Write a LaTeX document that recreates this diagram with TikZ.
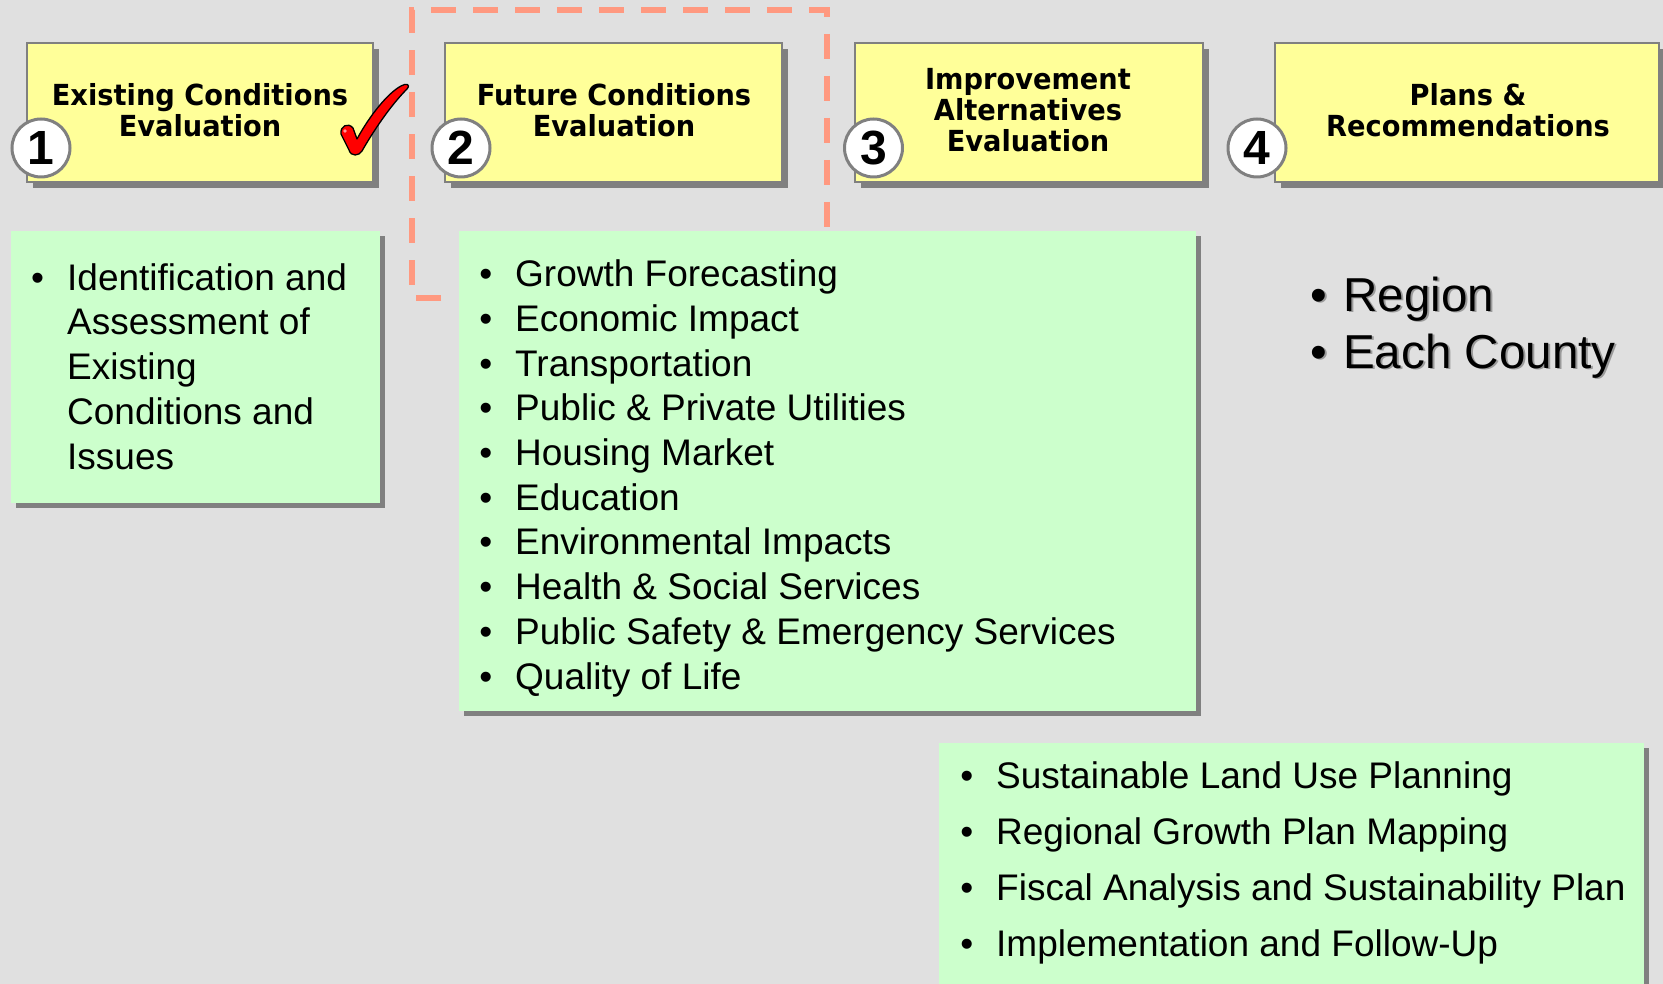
\documentclass[tikz,border=0pt]{standalone}
\usepackage{fontspec}
\setmainfont{Liberation Sans}
\newfontfamily\titlefont[FakeStretch=0.94]{DejaVu Sans}
\usetikzlibrary{shadows}
\definecolor{bg}{HTML}{E0E0E0}
\definecolor{ybox}{HTML}{FFFF99}
\definecolor{gbox}{HTML}{CCFFCC}
\definecolor{shad}{HTML}{808080}
\definecolor{dashc}{HTML}{FF9980}
\newcommand\bul{\llap{•\hspace{23pt}}}
\newcommand\bigbul{\llap{•\hspace{16pt}}}
\begin{document}
\begin{tikzpicture}[x=1pt,y=-1pt,
  stepbox/.style={fill=ybox, draw=shad, line width=2.5pt, inner sep=0pt,
    drop shadow={shadow xshift=6pt, shadow yshift=-6pt, fill=shad, opacity=1}},
  listbox/.style={fill=gbox, inner sep=0pt,
    drop shadow={shadow xshift=5pt, shadow yshift=-5pt, fill=shad, opacity=1}},
  numcirc/.style={circle, fill=white, draw=shad, line width=3pt, minimum size=58pt,
    inner sep=0pt, font=\fontsize{48}{48}\selectfont\bfseries},
  titletext/.style={align=center, inner sep=0pt,
    font=\titlefont\bfseries\fontsize{29}{31}\selectfont},
  listtext/.style={align=left, inner sep=0pt, font=\fontsize{37}{44.7}\selectfont},
  dashline/.style={draw=dashc, line width=5.5pt, dash pattern=on 25pt off 17pt}
]
\useasboundingbox (0,0) rectangle (1663,984);
\clip (0,0) rectangle (1663,984);
\fill[bg] (0,0) rectangle (1663,984);

% dashed outline
\coordinate (d0) at (441,298);
\coordinate (d1) at (412,298);
\coordinate (d2) at (412,10);
\coordinate (d3) at (827,10);
\coordinate (d4) at (827,231);
\draw[dashline] (d0) -- (d1) -- (d2) -- (d3) -- (d4);

% step boxes
\node[stepbox, minimum width=346pt, minimum height=139pt] (s1) at (200,112.5) {};
\node[stepbox, minimum width=337pt, minimum height=139pt] (s2) at (613.5,112.5) {};
\node[stepbox, minimum width=348pt, minimum height=139pt] (s3) at (1029,112.5) {};
\node[stepbox, minimum width=384pt, minimum height=139pt] (s4) at (1467,112.5) {};

% (anchor=base is the baseline of the last line)
\node[titletext, anchor=base] (t1) at (200,137) {Existing Conditions\\Evaluation};
\node[titletext, anchor=base] (t2) at (614,137) {Future Conditions\\Evaluation};
\node[titletext, anchor=base] (t3) at (1028,152) {Improvement\\Alternatives\\Evaluation};
\node[titletext, anchor=base] (t4) at (1468,137) {Plans \&\\Recommendations};

\node[numcirc] (c1) at (41,148) {1};
\node[numcirc] (c2) at (461,148) {2};
\node[numcirc] (c3) at (873.5,148) {3};
\node[numcirc] (c4) at (1257,148) {4};

% check mark
\draw[black, line width=1.3pt, fill=red, line join=round]
  (341,134) .. controls (340,126) and (348,122) .. (353,128)
  -- (357,139) .. controls (370,115) and (388,93) .. (401,86)
  .. controls (406,83) and (411,84) .. (407,89)
  .. controls (391,105) and (374,130) .. (362,151)
  .. controls (359,156) and (351,157) .. (349,150) -- cycle;
\fill[white, opacity=0.6] (345,131) circle (1.8pt);

% list boxes
\node[listbox, minimum width=369pt, minimum height=272pt] (g1) at (195.5,367) {};
\node[listbox, minimum width=737pt, minimum height=480pt] (g2) at (827.5,471) {};
\node[listbox, minimum width=705pt, minimum height=267pt] (g3) at (1291.5,876.5) {};

\node[listtext, anchor=base west] (l1) at (67,469)
  {\bul Identification and\\Assessment of\\Existing\\Conditions and\\Issues};
\node[listtext, anchor=base west] (l2) at (515,689)
  {\bul Growth Forecasting\\\bul Economic Impact\\\bul Transportation\\
   \bul Public \& Private Utilities\\\bul Housing Market\\\bul Education\\
   \bul Environmental Impacts\\\bul Health \& Social Services\\
   \bul Public Safety \& Emergency Services\\\bul Quality of Life};
\node[listtext, anchor=base west, font=\fontsize{37}{55.8}\selectfont] (l3) at (996,956)
  {\bul Sustainable Land Use Planning\\\bul Regional Growth Plan Mapping\\
   \bul Fiscal Analysis and Sustainability Plan\\\bul Implementation and Follow-Up};

% region list with text shadow
\node[listtext, anchor=base west, text=shad!80, font=\fontsize{47.6}{57}\selectfont] (r0) at (1345,370)
  {\bigbul Region\\\bigbul Each County};
\node[listtext, anchor=base west, font=\fontsize{47.6}{57}\selectfont] (r1) at (1343,368)
  {\bigbul Region\\\bigbul Each County};
\end{tikzpicture}
\end{document}
